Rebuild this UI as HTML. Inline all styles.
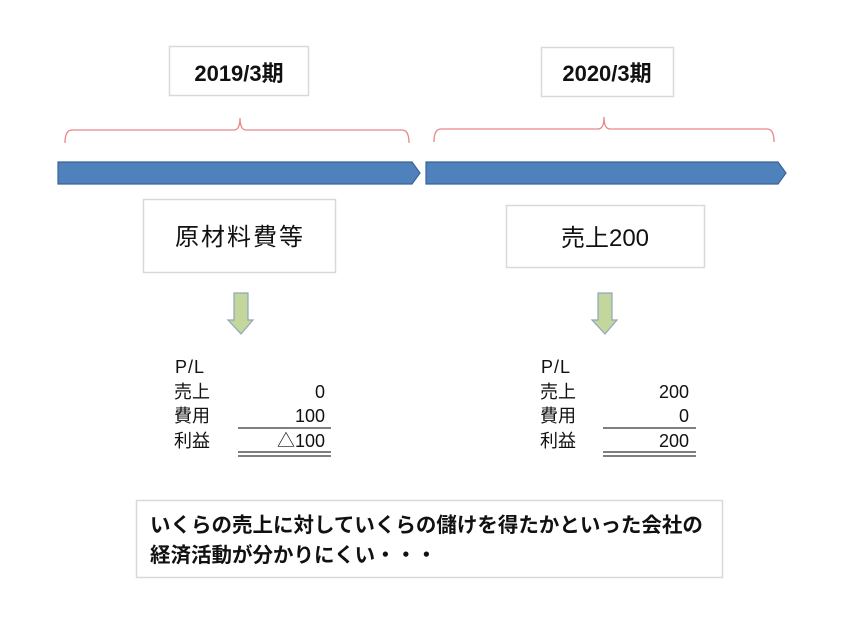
<!DOCTYPE html>
<html><head><meta charset="utf-8"><style>
html,body{margin:0;padding:0;background:#fff;}
svg{display:block;}
text{font-family:"Liberation Sans","Noto Sans CJK JP",sans-serif;fill:#111;}
</style></head><body>
<svg width="860" height="623" viewBox="0 0 860 623" xmlns="http://www.w3.org/2000/svg">
<rect x="0" y="0" width="860" height="623" fill="#fff"/>
<rect x="169.5" y="46.5" width="139" height="49" fill="#fff" stroke="#d9d9d9" stroke-width="1.5"/>
<text x="239" y="81" font-size="22" font-weight="bold" text-anchor="middle">2019/3期</text>
<rect x="541.5" y="47.5" width="132" height="49" fill="#fff" stroke="#d9d9d9" stroke-width="1.5"/>
<text x="607" y="81" font-size="22" font-weight="bold" text-anchor="middle">2020/3期</text>
<path d="M65 143 Q65 130 72 130 L234 130 Q240 130 240 118 Q240 130 246 130 L402 130 Q409 130 409 143" fill="none" stroke="#e8868a" stroke-width="1.3"/>
<path d="M434 142 Q434 129 441 129 L598 129 Q604 129 604 117 Q604 129 610 129 L767 129 Q774 129 774 142" fill="none" stroke="#e8868a" stroke-width="1.3"/>
<path d="M58 162 L412 162 L420 173 L412 184 L58 184 Z" fill="#4f81bd" stroke="#3a6494" stroke-width="1.2"/>
<path d="M426 162 L778 162 L786 173 L778 184 L426 184 Z" fill="#4f81bd" stroke="#3a6494" stroke-width="1.2"/>
<rect x="143.5" y="199.5" width="192" height="73" fill="#fff" stroke="#d9d9d9" stroke-width="1.5"/>
<text x="240" y="245" font-size="24" text-anchor="middle" letter-spacing="2">原材料費等</text>
<rect x="506.5" y="205.5" width="198" height="62" fill="#fff" stroke="#d9d9d9" stroke-width="1.5"/>
<text x="605" y="246" font-size="24" text-anchor="middle">売上200</text>
<path d="M234 293 L248 293 L248 320 L253 320 L241 334 L228 320 L234 320 Z" fill="#c3d69b" stroke="#8ea6bd" stroke-width="1.2"/>
<path d="M598 293 L612 293 L612 320 L617 320 L605 334 L592 320 L598 320 Z" fill="#c3d69b" stroke="#8ea6bd" stroke-width="1.2"/>
<g font-size="18">
<text x="175" y="373" letter-spacing="1">P/L</text>
<text x="174" y="398">売上</text>
<text x="174" y="422">費用</text>
<text x="174" y="447">利益</text>
<text x="325" y="398" text-anchor="end">0</text>
<text x="325" y="422" text-anchor="end">100</text>
<text x="325" y="447" text-anchor="end">△100</text>
</g>
<line x1="238" y1="428" x2="331" y2="428" stroke="#333" stroke-width="1.2"/>
<line x1="238" y1="452" x2="331" y2="452" stroke="#333" stroke-width="1.2"/>
<line x1="238" y1="456" x2="331" y2="456" stroke="#333" stroke-width="1.2"/>
<g font-size="18">
<text x="541" y="373" letter-spacing="1">P/L</text>
<text x="540" y="398">売上</text>
<text x="540" y="422">費用</text>
<text x="540" y="447">利益</text>
<text x="689" y="398" text-anchor="end">200</text>
<text x="689" y="422" text-anchor="end">0</text>
<text x="689" y="447" text-anchor="end">200</text>
</g>
<line x1="603" y1="428" x2="696" y2="428" stroke="#333" stroke-width="1.2"/>
<line x1="603" y1="452" x2="696" y2="452" stroke="#333" stroke-width="1.2"/>
<line x1="603" y1="456" x2="696" y2="456" stroke="#333" stroke-width="1.2"/>
<rect x="136.5" y="500.5" width="586" height="77" fill="#fff" stroke="#d9d9d9" stroke-width="1.5"/>
<text x="150" y="532" font-size="20.5" font-weight="bold">いくらの売上に対していくらの儲けを得たかといった会社の</text>
<text x="150" y="562" font-size="20.5" font-weight="bold">経済活動が分かりにくい・・・</text>
</svg>
</body></html>
